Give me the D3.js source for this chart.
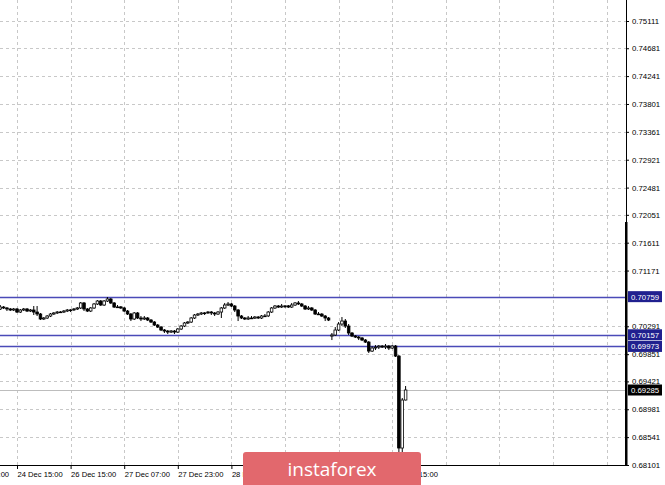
<!DOCTYPE html>
<html><head><meta charset="utf-8">
<script src="https://cdn.jsdelivr.net/npm/d3@7"></script>
<style>html,body{margin:0;padding:0;background:#fff;overflow:hidden}</style>
</head><body>
<svg id="c" width="665" height="485"></svg>
<script>
// ---------- DATA (H1 candles) ----------
const open = [0.70564,0.70595,0.70580,0.70564,0.70548,0.70564,0.70516,0.70548,0.70564,0.70532,
0.70548,0.70516,0.70485,0.70406,0.70422,0.70453,0.70485,0.70501,0.70516,0.70516,
0.70532,0.70548,0.70550,0.70564,0.70580,0.70659,0.70564,0.70532,0.70580,0.70643,
0.70690,0.70627,0.70690,0.70722,0.70659,0.70595,0.70597,0.70580,0.70532,0.70485,
0.70406,0.70501,0.70422,0.70406,0.70422,0.70390,0.70358,0.70311,0.70279,0.70232,
0.70216,0.70200,0.70216,0.70200,0.70248,0.70295,0.70343,0.70358,0.70422,0.70469,
0.70485,0.70501,0.70503,0.70516,0.70501,0.70485,0.70516,0.70580,0.70627,0.70643,
0.70611,0.70548,0.70453,0.70422,0.70406,0.70422,0.70420,0.70437,0.70422,0.70453,
0.70455,0.70516,0.70580,0.70611,0.70595,0.70611,0.70613,0.70595,0.70627,0.70659,
0.70643,0.70611,0.70564,0.70580,0.70548,0.70485,0.70483,0.70453,0.70422,0.70137,
0.70153,0.70232,0.70327,0.70374,0.70295,0.70185,0.70137,0.70121,0.70106,0.70074,
0.70042,0.69900,0.69948,0.69963,0.69979,0.69963,0.69979,0.69948,0.69979,0.69821,
0.68369,0.69127];
const high = [0.70627,0.70611,0.70595,0.70580,0.70580,0.70580,0.70564,0.70580,0.70580,0.70564,
0.70611,0.70611,0.70501,0.70437,0.70469,0.70501,0.70516,0.70532,0.70532,0.70548,
0.70564,0.70564,0.70580,0.70595,0.70674,0.70674,0.70580,0.70595,0.70659,0.70706,
0.70706,0.70706,0.70753,0.70738,0.70674,0.70627,0.70611,0.70595,0.70548,0.70501,
0.70516,0.70516,0.70453,0.70453,0.70437,0.70406,0.70374,0.70327,0.70295,0.70248,
0.70232,0.70232,0.70232,0.70264,0.70311,0.70358,0.70374,0.70437,0.70485,0.70501,
0.70516,0.70516,0.70532,0.70532,0.70516,0.70532,0.70595,0.70659,0.70674,0.70659,
0.70627,0.70564,0.70469,0.70437,0.70453,0.70453,0.70453,0.70453,0.70469,0.70485,
0.70532,0.70595,0.70627,0.70627,0.70643,0.70627,0.70627,0.70659,0.70674,0.70690,
0.70659,0.70627,0.70611,0.70595,0.70564,0.70516,0.70501,0.70469,0.70437,0.70185,
0.70279,0.70358,0.70437,0.70406,0.70327,0.70200,0.70153,0.70137,0.70121,0.70090,
0.70058,0.69979,0.69995,0.69995,0.69995,0.70011,0.69995,0.69995,0.69995,0.69837,
0.69159,0.69348];
const low = [0.70548,0.70564,0.70532,0.70532,0.70532,0.70501,0.70501,0.70532,0.70516,0.70516,
0.70469,0.70453,0.70390,0.70390,0.70406,0.70437,0.70469,0.70485,0.70501,0.70501,
0.70516,0.70516,0.70532,0.70548,0.70564,0.70532,0.70516,0.70516,0.70564,0.70627,
0.70611,0.70611,0.70674,0.70643,0.70580,0.70580,0.70564,0.70516,0.70469,0.70374,
0.70390,0.70406,0.70374,0.70390,0.70374,0.70343,0.70295,0.70264,0.70216,0.70185,
0.70169,0.70185,0.70169,0.70185,0.70232,0.70279,0.70327,0.70343,0.70406,0.70453,
0.70469,0.70469,0.70485,0.70469,0.70453,0.70469,0.70422,0.70564,0.70611,0.70595,
0.70516,0.70374,0.70406,0.70390,0.70390,0.70406,0.70406,0.70406,0.70406,0.70437,
0.70437,0.70501,0.70564,0.70580,0.70580,0.70580,0.70580,0.70580,0.70611,0.70627,
0.70595,0.70548,0.70548,0.70532,0.70469,0.70469,0.70437,0.70374,0.70374,0.70074,
0.70137,0.70216,0.70295,0.70264,0.70153,0.70121,0.70106,0.70074,0.70058,0.70027,
0.69869,0.69885,0.69916,0.69932,0.69948,0.69932,0.69916,0.69932,0.69806,0.68259,
0.68306,0.69120];
const close = [0.70595,0.70580,0.70564,0.70548,0.70564,0.70516,0.70548,0.70564,0.70532,0.70548,
0.70516,0.70485,0.70406,0.70422,0.70453,0.70485,0.70501,0.70516,0.70518,0.70532,
0.70548,0.70550,0.70564,0.70580,0.70659,0.70564,0.70532,0.70580,0.70643,0.70690,
0.70627,0.70690,0.70722,0.70659,0.70595,0.70597,0.70580,0.70532,0.70485,0.70406,
0.70501,0.70422,0.70406,0.70422,0.70390,0.70358,0.70311,0.70279,0.70232,0.70216,
0.70200,0.70216,0.70200,0.70248,0.70295,0.70343,0.70358,0.70422,0.70469,0.70485,
0.70501,0.70503,0.70516,0.70501,0.70485,0.70516,0.70580,0.70627,0.70643,0.70611,
0.70548,0.70453,0.70422,0.70406,0.70422,0.70420,0.70437,0.70422,0.70453,0.70455,
0.70516,0.70580,0.70611,0.70595,0.70611,0.70613,0.70595,0.70627,0.70659,0.70643,
0.70611,0.70564,0.70580,0.70548,0.70485,0.70483,0.70453,0.70422,0.70390,0.70153,
0.70232,0.70327,0.70374,0.70295,0.70185,0.70137,0.70121,0.70106,0.70074,0.70042,
0.69900,0.69948,0.69963,0.69979,0.69963,0.69979,0.69948,0.69979,0.69821,0.68369,
0.69127,0.69285];

const priceTicks = [0.75111,0.74681,0.74241,0.73801,0.73361,0.72921,0.72481,0.72051,
  0.71611,0.71171,0.70291,0.69851,0.69421,0.68981,0.68541,0.68101];
const timeTickIndex = [-11,5,21,37,53,69,85,101,117];
const timeTickLabels = ["23 Dec 23:00","24 Dec 15:00","26 Dec 15:00","27 Dec 07:00",
  "27 Dec 23:00","28 Dec 15:00","29 Dec 07:00","29 Dec 23:00","30 Dec 15:00"];
const extraGridIndex = [133,149,165,181];
const levels = [0.70759, 0.70157, 0.69973];
const bidPrice = 0.69285;

// ---------- LAYOUT ----------
const W = 665, H = 485;
const plotR = 626, plotB = 465;
const svg = d3.select("#c");
const FONT = "'Liberation Sans', Arial, sans-serif";

const y = d3.scaleLinear().domain([0.68101, 0.75111]).range([465, 21]);
const x = d3.scaleLinear().domain([0, 121]).range([0.25, 0.25 + 121 * 3.35]);

svg.append("rect").attr("width", W).attr("height", H).attr("fill", "#fff");

svg.append("clipPath").attr("id", "plotclip").append("rect")
  .attr("x", 0).attr("y", 0).attr("width", plotR).attr("height", plotB);

const grid = svg.append("g").attr("clip-path", "url(#plotclip)");
grid.selectAll("line.hg").data(priceTicks).join("line")
  .attr("x1", 0).attr("x2", plotR)
  .attr("y1", d => Math.round(y(d)) + 0.5).attr("y2", d => Math.round(y(d)) + 0.5)
  .attr("stroke", "#c8c8c8").attr("stroke-dasharray", "3,3");
grid.selectAll("line.vg").data(timeTickIndex.concat(extraGridIndex)).join("line")
  .attr("x1", d => Math.round(x(d)) + 0.5).attr("x2", d => Math.round(x(d)) + 0.5)
  .attr("y1", 0).attr("y2", plotB)
  .attr("stroke", "#c8c8c8").attr("stroke-dasharray", "3,3");

grid.append("line").attr("x1", 0).attr("x2", plotR)
  .attr("y1", Math.round(y(bidPrice)) + 0.5).attr("y2", Math.round(y(bidPrice)) + 0.5)
  .attr("stroke", "#bdbdbd");

grid.selectAll("line.lv").data(levels).join("line")
  .attr("x1", 0).attr("x2", plotR)
  .attr("y1", d => Math.round(y(d)) + 0.5).attr("y2", d => Math.round(y(d)) + 0.5)
  .attr("stroke", "#4a4ab8").attr("stroke-width", 1.4);

// candles
const bars = open.map((o, i) => ({i, o, h: high[i], l: low[i], c: close[i]}));
const cg = svg.append("g").attr("clip-path", "url(#plotclip)");
const bw = 2.6;
cg.selectAll("line.wick").data(bars).join("line")
  .attr("x1", d => x(d.i)).attr("x2", d => x(d.i))
  .attr("y1", d => y(d.h)).attr("y2", d => y(d.l))
  .attr("stroke", "#000").attr("stroke-width", 1);
cg.selectAll("rect.body").data(bars).join("rect")
  .attr("x", d => x(d.i) - bw / 2)
  .attr("y", d => y(Math.max(d.o, d.c)))
  .attr("width", bw)
  .attr("height", d => Math.max(0.8, Math.abs(y(d.o) - y(d.c))))
  .attr("fill", d => d.c >= d.o ? "#fff" : "#000")
  .attr("stroke", "#000").attr("stroke-width", 0.8);

// right axis
const ra = svg.append("g").attr("transform", `translate(${plotR},0)`)
  .call(d3.axisRight(y).tickValues(priceTicks).tickSize(3).tickPadding(3)
    .tickFormat(d3.format(".5f")));
ra.select(".domain").remove();
ra.selectAll("text").attr("font-family", FONT).attr("font-size", 7.8).attr("fill", "#000");
ra.selectAll("line").attr("stroke", "#000");

// bottom axis
const ba = svg.append("g").attr("transform", `translate(0,${plotB})`)
  .call(d3.axisBottom(x).tickValues(timeTickIndex).tickSize(4).tickPadding(3)
    .tickFormat((d, i) => timeTickLabels[i]));
ba.select(".domain").remove();
ba.selectAll("text").attr("font-family", FONT).attr("font-size", 7.6)
  .attr("text-anchor", "start").attr("dx", 0).attr("fill", "#000");
ba.selectAll("line").attr("stroke", "#000");

// frame lines
svg.append("line").attr("x1", plotR + 0.5).attr("x2", plotR + 0.5).attr("y1", 0).attr("y2", plotB)
  .attr("stroke", "#000");
svg.append("line").attr("x1", 0).attr("x2", plotR + 1).attr("y1", plotB + 0.5).attr("y2", plotB + 0.5)
  .attr("stroke", "#000");
svg.append("rect").attr("x", plotR - 1).attr("y", 222).attr("width", 2.5).attr("height", plotB - 222)
  .attr("fill", "#000");

// level labels
const lab = svg.append("g");
const boxes = levels.map(v => ({v, fill: "#20208f"})).concat([{v: bidPrice, fill: "#000"}]);
lab.selectAll("rect").data(boxes).join("rect")
  .attr("x", plotR + 2).attr("y", d => y(d.v) - 5.5).attr("width", 34).attr("height", 11)
  .attr("fill", d => d.fill);
lab.selectAll("text").data(boxes).join("text")
  .attr("x", plotR + 5).attr("y", d => y(d.v) + 3)
  .attr("font-family", FONT).attr("font-size", 7.8).attr("fill", "#fff")
  .text(d => d3.format(".5f")(d.v));

// watermark
const wm = svg.append("g");
wm.append("rect").attr("x", 243).attr("y", 452).attr("width", 178).attr("height", 40).attr("rx", 3)
  .attr("fill", "#e2686d");
wm.append("text").attr("x", 332).attr("y", 476).attr("text-anchor", "middle")
  .attr("font-family", "'Open Sans', sans-serif").attr("font-size", 19).attr("fill", "#fff")
  .text("instaforex");
</script>
</body></html>
